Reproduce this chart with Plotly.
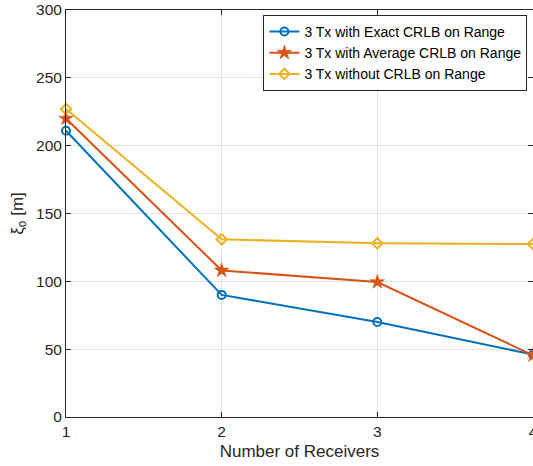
import plotly.graph_objects as go

receivers = [1, 2, 3, 4]
exact_crlb = [211, 90, 70, 46]
average_crlb = [220, 108, 99.5, 45.5]
without_crlb = [227, 131, 128, 127.5]

names = ["3 Tx with Exact CRLB on Range",
         "3 Tx with Average CRLB on Range",
         "3 Tx without CRLB on Range"]
colors = ["#0072BD", "#D95319", "#EDB120"]
symbols = ["circle-open", "star", "diamond-open"]
series = [exact_crlb, average_crlb, without_crlb]

fig = go.Figure()
for name, ys, c, s in zip(names, series, colors, symbols):
    fig.add_trace(go.Scatter(
        x=receivers, y=ys, name=name, mode="lines+markers",
        line=dict(color=c, width=2),
        marker=dict(symbol=s, size=8 if s != "star" else 11, color=c,
                    line=dict(color=c, width=2 if s != "star" else 0.5)),
        cliponaxis=False,
    ))

font = "Liberation Sans, Arial, Helvetica, sans-serif"
fig.update_layout(
    width=533, height=466,
    margin=dict(l=66, r=0, t=10, b=49, autoexpand=False),
    paper_bgcolor="white", plot_bgcolor="white",
    font=dict(family=font, size=15.5, color="#262626"),
    legend=dict(x=0.988, y=0.988, xanchor="right", yanchor="top",
                bgcolor="white", bordercolor="#262626", borderwidth=1,
                font=dict(size=14, color="#000000"), tracegroupgap=0,
                itemwidth=30),
    showlegend=True,
)
fig.update_xaxes(
    range=[1, 4], tickvals=receivers, ticktext=["1", "2", "3", "4"],
    ticklabeloverflow="allow", automargin=False,
    showgrid=True, gridcolor="#e3e3e3", gridwidth=1,
    showline=True, linecolor="#262626", linewidth=1, mirror="ticks",
    ticks="inside", ticklen=5, tickcolor="#262626", zeroline=False,
    title=dict(text="Number of Receivers", font=dict(size=17), standoff=6),
)
fig.update_yaxes(
    range=[0, 300], tickvals=[0, 50, 100, 150, 200, 250, 300],
    automargin=False,
    showgrid=True, gridcolor="#e3e3e3", gridwidth=1,
    showline=True, linecolor="#262626", linewidth=1, mirror="ticks",
    ticks="inside", ticklen=5, tickcolor="#262626", zeroline=False,
    title=dict(text="ξ<sub>o</sub> [m]", font=dict(size=17), standoff=8),
)
fig.write_html("out.html")
